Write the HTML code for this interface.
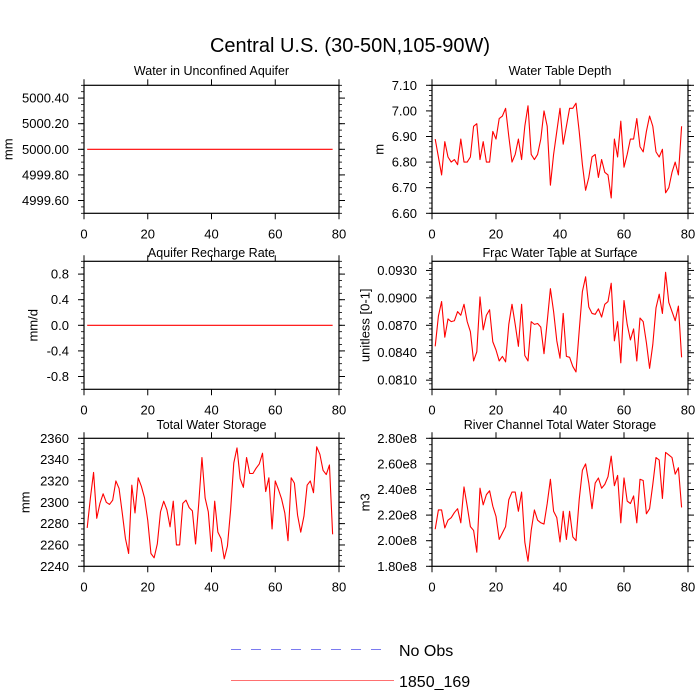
<!DOCTYPE html>
<html><head><meta charset="utf-8"><style>
html,body{margin:0;padding:0;background:#fff;}
svg{display:block;font-family:"Liberation Sans",sans-serif;}
</style></head><body>
<svg id="chart" width="700" height="700" viewBox="0 0 700 700">
<text x="350" y="52" font-size="20" text-anchor="middle">Central U.S. (30-50N,105-90W)</text>
<g>
<line x1="231" y1="649.5" x2="387" y2="649.5" stroke="#7a7af0" stroke-width="1" stroke-dasharray="10,10"/>
<text x="399" y="656" font-size="16">No Obs</text>
<line x1="231" y1="680.5" x2="394" y2="680.5" stroke="#ff7070" stroke-width="1"/>
<text x="399" y="687" font-size="16">1850_169</text>
</g>
</svg>
<script>
const xTicks = [0,20,40,60,80];
const aquiferWater = Array(78).fill(5000.0);
const rechargeRate = Array(78).fill(0.0);
const waterTableDepth = [6.89,6.82,6.75,6.88,6.82,6.80,6.81,6.79,6.89,6.80,6.80,6.82,6.94,6.95,6.81,6.88,6.80,6.80,6.92,6.89,6.97,6.98,7.01,6.90,6.80,6.83,6.89,6.81,6.94,7.02,6.83,6.81,6.83,6.89,7.00,6.94,6.71,6.83,6.92,7.01,6.87,6.94,7.01,7.01,7.03,6.92,6.79,6.69,6.74,6.82,6.83,6.74,6.81,6.76,6.75,6.66,6.89,6.82,6.96,6.78,6.83,6.89,6.89,6.97,6.86,6.84,6.92,6.98,6.94,6.84,6.82,6.85,6.68,6.70,6.76,6.80,6.75,6.94];
const fracWaterTable = [0.0847,0.0880,0.0896,0.0857,0.0877,0.0874,0.0875,0.0885,0.0881,0.0893,0.0874,0.0863,0.0831,0.0841,0.0901,0.0865,0.0881,0.0887,0.0852,0.0843,0.0831,0.0836,0.0830,0.0871,0.0893,0.0871,0.0847,0.0893,0.0837,0.0831,0.0874,0.0871,0.0872,0.0868,0.0839,0.0874,0.0910,0.0885,0.0853,0.0834,0.0883,0.0836,0.0835,0.0825,0.0819,0.0864,0.0907,0.0923,0.0890,0.0883,0.0882,0.0888,0.0879,0.0893,0.0896,0.0916,0.0853,0.0874,0.0829,0.0897,0.0871,0.0854,0.0866,0.0831,0.0878,0.0874,0.0851,0.0823,0.0849,0.0889,0.0904,0.0883,0.0928,0.0895,0.0885,0.0875,0.0891,0.0835];
const totalWaterStorage = [2276,2304,2328,2285,2299,2308,2300,2298,2302,2320,2313,2290,2266,2252,2316,2290,2323,2315,2304,2283,2252,2248,2261,2291,2301,2293,2277,2301,2260,2260,2299,2302,2295,2292,2261,2299,2342,2304,2291,2254,2301,2272,2266,2247,2259,2293,2337,2351,2322,2314,2342,2327,2327,2332,2336,2346,2310,2323,2275,2320,2312,2303,2290,2264,2323,2318,2288,2272,2287,2316,2320,2309,2352,2345,2330,2326,2335,2270];
const riverStorage = [2.09,2.24,2.24,2.10,2.16,2.18,2.22,2.25,2.14,2.42,2.27,2.11,2.08,1.91,2.41,2.28,2.36,2.39,2.27,2.19,2.01,2.06,2.11,2.32,2.38,2.38,2.23,2.38,1.99,1.84,2.08,2.24,2.16,2.14,2.13,2.29,2.48,2.23,2.18,1.99,2.23,2.01,2.23,2.03,2.00,2.32,2.55,2.60,2.45,2.25,2.45,2.49,2.41,2.44,2.50,2.66,2.43,2.51,2.14,2.49,2.31,2.29,2.35,2.14,2.48,2.47,2.21,2.25,2.44,2.65,2.63,2.33,2.69,2.67,2.65,2.52,2.57,2.26];
const ticksAquifer = ["4999.60","4999.80","5000.00","5000.20","5000.40"];
const ticksRecharge = ["-0.8","-0.4","0.0","0.4","0.8"];
const ticksDepth = ["6.60","6.70","6.80","6.90","7.00","7.10"];
const ticksFrac = ["0.0810","0.0840","0.0870","0.0900","0.0930"];
const ticksTotal = ["2240","2260","2280","2300","2320","2340","2360"];
const ticksRiver = ["1.80e8","2.00e8","2.20e8","2.40e8","2.60e8","2.80e8"];

const NS='http://www.w3.org/2000/svg';
const svg=document.getElementById('chart');
function mk(tag,attrs,parent){const e=document.createElementNS(NS,tag);for(const k in attrs)e.setAttribute(k,attrs[k]);(parent||svg).appendChild(e);return e;}

const panels=[
 {name:'aquifer-water',title:'Water in Unconfined Aquifer',ylab:'mm',labX:8,x0:84,x1:339,y0:85.3,titleY:75,ymin:4999.5,ymax:5000.5,ticks:ticksAquifer,scale:1,minor:0.05,data:aquiferWater},
 {name:'recharge-rate',title:'Aquifer Recharge Rate',ylab:'mm/d',labX:33,x0:84,x1:339,y0:261.3,titleY:257,ymin:-1,ymax:1,ticks:ticksRecharge,scale:1,minor:0.1,data:rechargeRate},
 {name:'total-water',title:'Total Water Storage',ylab:'mm',labX:25,x0:84,x1:339,y0:438.3,titleY:429,ymin:2240,ymax:2360,ticks:ticksTotal,scale:1,minor:5,data:totalWaterStorage},
 {name:'water-table-depth',title:'Water Table Depth',ylab:'m',labX:379,x0:432,x1:688,y0:85.3,titleY:75,ymin:6.6,ymax:7.1,ticks:ticksDepth,scale:1,minor:0.02,data:waterTableDepth},
 {name:'frac-water-table',title:'Frac Water Table at Surface',ylab:'unitless [0-1]',labX:365,x0:432,x1:688,y0:261.3,titleY:257,ymin:0.080,ymax:0.094,ticks:ticksFrac,scale:1,minor:0.0006,data:fracWaterTable},
 {name:'river-storage',title:'River Channel Total Water Storage',ylab:'m3',labX:365,x0:432,x1:688,y0:438.3,titleY:429,ymin:1.8,ymax:2.8,ticks:ticksRiver,scale:1e8,minor:0.05,data:riverStorage}
];
const H=128;
panels.forEach(p=>{
 const g=mk('g',{});
 
 
 const y1=p.y0+H;
 const sx=v=>p.x0+(v-0)/(80-0)*(p.x1-p.x0);
 const sy=v=>y1-(v-p.ymin)/(p.ymax-p.ymin)*H;
 const t=mk('text',{x:(p.x0+p.x1)/2,y:p.titleY,'font-size':12.5,'text-anchor':'middle'},g);
 t.textContent=p.title;
 
 
 const yl=mk('text',{x:p.labX,y:(p.y0+y1)/2,'font-size':13,'text-anchor':'middle','dominant-baseline':'central',transform:`rotate(-90 ${p.labX} ${(p.y0+y1)/2})`},g);
 yl.textContent=p.ylab;
 
 
 const n=Math.round((p.ymax-p.ymin)/p.minor);
 for(let i=0;i<=n;i++){const v=p.ymin+i*p.minor,y=sy(v);
  const a=mk('line',{x1:p.x0-3,x2:p.x0,y1:y,y2:y,stroke:'#000','stroke-width':0.8},g);
  
  
  const b=mk('line',{x1:p.x1,x2:p.x1+3,y1:y,y2:y,stroke:'#000','stroke-width':0.8},g);
  
  
 }
 p.ticks.forEach(lbl=>{
  const v=parseFloat(lbl)/p.scale,y=sy(v);
  const a=mk('line',{x1:p.x0-6,x2:p.x0,y1:y,y2:y,stroke:'#000','stroke-width':1},g);
  
  
  const b=mk('line',{x1:p.x1,x2:p.x1+6,y1:y,y2:y,stroke:'#000','stroke-width':1},g);
  
  
  const tx=mk('text',{x:p.x0-15,y:y+4.5,'font-size':13,'text-anchor':'end'},g);
  tx.textContent=lbl;
  
  
 });
 xTicks.forEach(v=>{
  const x=sx(v);
  const a=mk('line',{x1:x,x2:x,y1:y1,y2:y1+6,stroke:'#000','stroke-width':1},g);
  
  
  const b=mk('line',{x1:x,x2:x,y1:p.y0-6,y2:p.y0,stroke:'#000','stroke-width':1},g);
  
  
  const tx=mk('text',{x:x,y:y1+25,'font-size':13,'text-anchor':'middle'},g);
  tx.textContent=String(v);
  
  
 });
 const pts=p.data.map((v,i)=>sx(i+1).toFixed(2)+','+sy(v).toFixed(2)).join(' ');
 const pl=mk('polyline',{points:pts,fill:'none',stroke:'#ff0000','stroke-width':1.1,'stroke-linejoin':'round'},g);
 
 
 const fr=mk('rect',{x:p.x0,y:p.y0,width:p.x1-p.x0,height:H,fill:'none',stroke:'#000','stroke-width':1.2},g);
 
 
});
</script>
</body></html>
